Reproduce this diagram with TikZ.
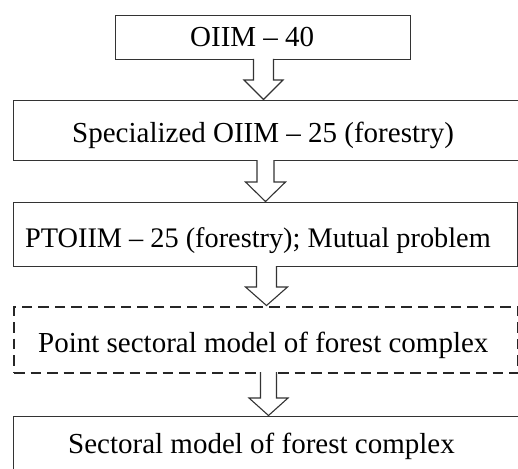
\documentclass[tikz,border=0pt]{standalone}
\usepackage{fontspec}
\setmainfont{Liberation Serif}
\tikzset{
  box/.style={draw=black!80, line width=1.1pt, inner sep=0pt, anchor=north west},
  dbox/.style={box, draw=black!85, dash pattern=on 10.5pt off 6pt, line width=2.4pt},
  lbl/.style={anchor=base west, inner sep=0pt, font=\fontsize{29}{34}\selectfont},
  harrow/.style={draw=black!80, line width=1.1pt, fill=white, line join=miter},
}
\newcommand\hollowarrow[6]{% x, ystart, ybase, ytip, shaft half width, head half width
  \draw[harrow] (#1-#5,#2) -- (#1-#5,#3) -- (#1-#6,#3) -- (#1,#4) -- (#1+#6,#3) -- (#1+#5,#3) -- (#1+#5,#2);}
\begin{document}
\begin{tikzpicture}[x=1pt,y=-1pt]
\useasboundingbox (0,0) rectangle (518,468);
\fill[white] (0,0) rectangle (518,468);
\begin{scope}
\clip (0,0) rectangle (518,468);
\node[box, minimum width=295pt, minimum height=44pt] (b1) at (115,15) {};
\node[box, minimum width=510pt, minimum height=60pt] (b2) at (13,100) {};
\node[box, minimum width=504pt, minimum height=64pt] (b3) at (13,202) {};
\node[dbox, minimum width=504pt, minimum height=66pt] (b4) at (13,306) {};
\node[box, minimum width=515pt, minimum height=70pt] (b5) at (13,416) {};

\node[lbl] (t1) at (190,47) {OIIM – 40};
\node[lbl] (t2) at (72,142) {Specialized OIIM – 25 (forestry)};
\node[lbl, font=\fontsize{28.3}{34}\selectfont] (t3) at (25,247) {PTOIIM – 25 (forestry); Mutual problem};
\node[lbl] (t4) at (38,352) {Point sectoral model of forest complex};
\node[lbl] (t5) at (68,453) {Sectoral model of forest complex};

\hollowarrow{263.5}{59}{80}{99.5}{10}{19.5}
\hollowarrow{265.5}{160}{182}{201.5}{8.5}{20}
\hollowarrow{266.5}{266}{287}{305.5}{10}{21}
\hollowarrow{268.5}{372}{398}{415.5}{8}{19.5}
\end{scope}
\end{tikzpicture}
\end{document}
